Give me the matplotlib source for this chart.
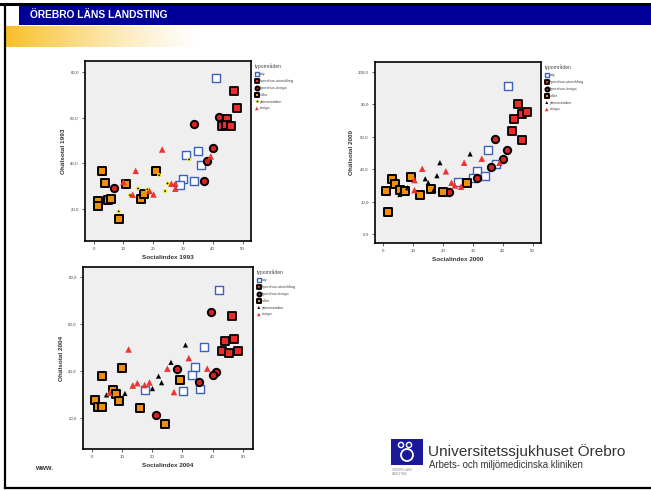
import matplotlib
matplotlib.use("Agg")
import matplotlib.pyplot as plt
import numpy as np
from matplotlib.ticker import FuncFormatter
from matplotlib.patches import Rectangle, Circle
from matplotlib.lines import Line2D

plt.rcParams['font.family'] = ['Liberation Sans', 'DejaVu Sans']

W, H = 651, 490

groups = ["city", "hyreshus-utveckling", "hyreshus-övriga", "villor", "ytterområden", "övriga"]

# ---- 1993 ----
x93_city = [40.9, 31.0, 35.0, 36.1, 30.0, 29.0, 33.6]
y93_city = [77.5, 43.8, 45.3, 39.3, 33.3, 30.7, 32.5]
x93_hu = [47.0, 48.1, 44.6, 43.0, 44.5, 46.1]
y93_hu = [71.4, 64.3, 59.5, 56.3, 56.9, 56.2]
x93_ho = [42.1, 33.6, 40.0, 38.0, 37.0, 6.9]
y93_ho = [60.4, 57.3, 46.9, 40.9, 32.3, 29.1]
x93_vi = [2.9, 3.9, 1.5, 1.5, 4.9, 5.9, 8.5, 11.0, 15.9, 17.0, 21.0]
y93_vi = [36.8, 31.5, 23.8, 21.3, 24.0, 24.3, 16.0, 31.0, 24.5, 26.8, 36.8]
x93_yt = [8.4, 14.9, 12.2, 18.0, 22.0, 24.8, 24.0, 32.0]
y93_yt = [19.1, 29.1, 26.2, 28.7, 34.9, 31.3, 28.0, 41.8]
x93_ov = [23.0, 14.1, 10.0, 13.1, 18.8, 20.1, 26.1, 27.4, 27.4, 39.3]
y93_ov = [46.1, 36.8, 31.9, 26.4, 28.0, 26.5, 31.2, 31.2, 29.0, 43.1]

# ---- 2000 ----
x00_city = [41.6, 35.0, 37.6, 31.4, 34.0, 30.0, 25.1]
y00_city = [91.3, 52.2, 43.1, 39.2, 35.9, 34.4, 32.0]
x00_hu = [45.1, 46.5, 48.1, 43.8, 43.1, 46.5]
y00_hu = [80.6, 74.4, 75.1, 71.1, 63.7, 58.4]
x00_ho = [37.5, 41.5, 40.0, 36.0, 31.5, 22.1]
y00_ho = [58.8, 52.2, 46.4, 41.6, 34.8, 25.8]
x00_vi = [1.1, 1.8, 3.0, 4.0, 5.7, 7.2, 9.2, 12.2, 16.1, 20.1, 28.1]
y00_vi = [26.4, 14.0, 34.2, 30.7, 27.0, 26.4, 35.1, 24.3, 27.6, 25.8, 31.5]
x00_yt = [5.6, 8.2, 14.1, 15.1, 17.0, 18.0, 19.0, 29.1]
y00_yt = [24.5, 28.7, 34.2, 31.8, 27.4, 36.1, 44.1, 49.5]
x00_ov = [13.1, 10.5, 10.5, 21.0, 22.9, 24.0, 26.1, 27.1, 33.0, 38.9]
y00_ov = [40.4, 33.4, 27.2, 38.8, 31.8, 30.1, 29.3, 44.1, 46.6, 44.1]

# ---- 2004 ----
x04_city = [42.2, 37.2, 34.1, 33.1, 35.7, 30.2, 17.7]
y04_city = [74.7, 50.4, 41.5, 38.1, 32.3, 31.4, 31.8]
x04_hu = [46.3, 44.2, 47.1, 43.2, 45.3, 48.2]
y04_hu = [63.6, 52.9, 53.6, 48.6, 47.6, 48.5]
x04_ho = [39.3, 28.2, 41.1, 40.1, 35.6, 21.2]
y04_ho = [65.2, 41.0, 39.7, 38.4, 35.4, 21.1]
x04_vi = [3.5, 10.1, 29.2, 1.1, 2.1, 3.5, 7.0, 8.0, 9.1, 16.1, 24.1]
y04_vi = [37.7, 41.2, 36.3, 27.6, 24.6, 24.7, 32.0, 30.0, 27.0, 24.1, 17.4]
x04_yt = [4.9, 11.0, 13.6, 20.1, 22.1, 23.1, 26.2, 31.0]
y04_yt = [29.8, 30.4, 33.8, 32.5, 37.8, 35.0, 43.7, 51.1]
x04_ov = [12.2, 5.9, 13.6, 15.1, 17.5, 19.1, 25.0, 27.2, 32.1, 38.2]
y04_ov = [49.2, 30.7, 33.8, 34.8, 34.0, 35.1, 41.0, 31.0, 45.5, 41.0]

xticks = [0, 10, 20, 30, 40, 50]
yticks_93 = [20, 40, 60, 80]
yticks_00 = [0, 20, 40, 60, 80, 100]
yticks_04 = [20, 40, 60, 80]

fig = plt.figure(figsize=(W / 100, H / 100), dpi=100)

def px_axes(x0, y0, x1, y1, **kw):
    return fig.add_axes([x0 / W, 1 - y1 / H, (x1 - x0) / W, (y1 - y0) / H], **kw)

# ---- slide decoration ----
deco = fig.add_axes([0, 0, 1, 1])
deco.set_xlim(0, W)
deco.set_ylim(H, 0)
deco.axis('off')
deco.add_patch(Rectangle((19, 6), W - 19, 19.5, color='#000099', lw=0))
grad = np.linspace(0, 1, 256)
cols = np.zeros((1, 256, 4))
cols[0, :, 0] = 0.98
cols[0, :, 1] = 0.75
cols[0, :, 2] = 0.16
cols[0, :, 3] = np.clip(1 - grad, 0, 1) ** 1.3
deco.imshow(cols, extent=(6, 205, 47, 26), aspect='auto', zorder=1)
deco.plot([0, W], [4.5, 4.5], color='black', lw=2.2)
deco.plot([5, 5], [4, 488], color='black', lw=1.6)
deco.plot([5, W], [487.5, 487.5], color='black', lw=1.6)
deco.text(30, 15.5, "ÖREBRO LÄNS LANDSTING", color='white', fontsize=7.4, fontweight='bold',
          va='center', ha='left')
deco.text(35, 468, "www.", fontsize=5, fontweight='bold', color='#333333', va='center')
# logo
deco.add_patch(Rectangle((391, 439), 32, 26, color='#1a1a99', lw=0))
for (cx, cy, r) in [(401, 445, 2.6), (409, 445, 2.6)]:
    deco.add_patch(Circle((cx, cy), r, fill=False, ec='white', lw=1.0))
deco.add_patch(Circle((407, 455), 6, fill=False, ec='white', lw=1.3))
deco.text(392, 472, "ÖREBRO LÄNS\nLANDSTING", fontsize=2, color='#888888', va='center', linespacing=1.0)
deco.text(428, 452, "Universitetssjukhuset Örebro", fontsize=11.1, color='#333333', va='center')
deco.text(429, 464.5, "Arbets- och miljömedicinska kliniken", fontsize=6.9, color='#333333', va='center')

fmt = FuncFormatter(lambda v, p: f"{v:.1f}".replace('.', ','))

def draw(ax, data, yticks, xlim, ylim, xlabel, ylabel, yt_style):
    (xc, yc), (xhu, yhu), (xho, yho), (xvi, yvi), (xyt, yyt), (xov, yov) = data
    ax.set_facecolor('#efefef')
    h = []
    h.append(ax.scatter(xc, yc, marker='s', s=28, facecolors='white', edgecolors='#4060c0', lw=1.0, zorder=3))
    h.append(ax.scatter(xhu, yhu, marker='s', s=36, facecolors='#ee2b2b', edgecolors='black', lw=1.3, zorder=3))
    h.append(ax.scatter(xho, yho, marker='o', s=28, facecolors='#dd2222', edgecolors='black', lw=1.4, zorder=3))
    h.append(ax.scatter(xvi, yvi, marker='s', s=28, facecolors='#f0900a', edgecolors='black', lw=1.4, zorder=3))
    if yt_style == 'yellow':
        h.append(ax.scatter(xyt, yyt, marker='o', s=9, facecolors='#f5e82a', edgecolors='none', zorder=3))
        ax.scatter(xyt, yyt, marker='o', s=1.5, facecolors='black', edgecolors='none', zorder=4)
        yh = (Line2D([], [], marker='o', ls='', ms=2, mfc='#f5e82a', mec='#f5e82a'),
              Line2D([], [], marker='o', ls='', ms=0.7, mfc='black', mec='black'))
    else:
        h.append(ax.scatter(xyt, yyt, marker='^', s=14, facecolors='black', edgecolors='none', zorder=3))
        yh = h[-1]
    h.append(ax.scatter(xov, yov, marker='^', s=22, facecolors='#ee3333', edgecolors='none', zorder=3))
    handles = h[:4] + [yh, h[5]]
    ax.set_xlim(*xlim)
    ax.set_ylim(*ylim)
    ax.set_xticks(xticks)
    ax.set_yticks(yticks)
    ax.yaxis.set_major_formatter(fmt)
    ax.tick_params(labelsize=3.2, length=2.5, width=0.6, colors='#444444', pad=2)
    for s in ax.spines.values():
        s.set_linewidth(1.2)
    ax.set_xlabel(xlabel, fontsize=4.6, fontweight='bold', color='#333333', labelpad=3)
    ax.set_ylabel(ylabel, fontsize=4.6, fontweight='bold', color='#333333', labelpad=3)
    leg = ax.legend(handles, groups, loc='upper left', bbox_to_anchor=(1.01, 1.0), frameon=False,
                    fontsize=2.8, title='typområden', title_fontsize=3.6, handletextpad=0.3,
                    borderaxespad=0.2, labelspacing=0.75, handlelength=0.9, markerscale=0.55)
    leg._legend_box.align = 'left'
    leg.get_title().set_color('#444444')
    for t in leg.get_texts():
        t.set_color('#444444')

ax1 = px_axes(85, 61, 251, 241)
draw(ax1, [(x93_city, y93_city), (x93_hu, y93_hu), (x93_ho, y93_ho), (x93_vi, y93_vi),
           (x93_yt, y93_yt), (x93_ov, y93_ov)], yticks_93, (-2.9, 52.8), (6.2, 84.7),
     "Socialindex 1993", "Ohälsotal 1993", 'yellow')

ax2 = px_axes(375, 62, 541, 243)
draw(ax2, [(x00_city, y00_city), (x00_hu, y00_hu), (x00_ho, y00_ho), (x00_vi, y00_vi),
           (x00_yt, y00_yt), (x00_ov, y00_ov)], yticks_00, (-2.7, 52.8), (-5.4, 106.2),
     "Socialindex 2000", "Ohälsotal 2000", 'black')

ax3 = px_axes(83, 267, 253, 449)
draw(ax3, [(x04_city, y04_city), (x04_hu, y04_hu), (x04_ho, y04_ho), (x04_vi, y04_vi),
           (x04_yt, y04_yt), (x04_ov, y04_ov)], yticks_04, (-2.85, 53.3), (6.7, 84.4),
     "Socialindex 2004", "Ohälsotal 2004", 'black')

fig.savefig("out.png", dpi=100)
